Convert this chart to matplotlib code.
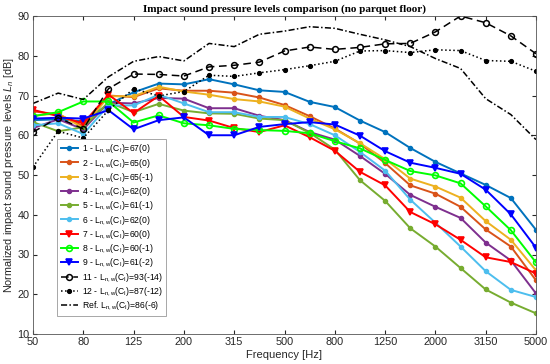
import numpy as np
import matplotlib
matplotlib.use('Agg')
import matplotlib.pyplot as plt

# 1/3-octave band centre frequencies
freqs = [50, 63, 80, 100, 125, 160, 200, 250, 315, 400, 500, 630, 800,
         1000, 1250, 1600, 2000, 2500, 3150, 4000, 5000]
tick_labels = ['50', '80', '125', '200', '315', '500', '800', '1250', '2000', '3150', '5000']

s1 = [63.8, 64.0, 63.5, 67.8, 70.8, 73.0, 72.8, 74.1, 72.8, 71.3, 70.9, 68.4, 67.1,
      63.7, 60.8, 56.8, 53.3, 50.4, 47.5, 44.2, 36.2]
s2 = [66.0, 65.3, 62.3, 70.0, 69.6, 71.8, 71.2, 71.2, 70.7, 69.5, 67.6, 64.8, 61.7,
      57.9, 53.0, 47.4, 45.3, 42.0, 36.3, 32.0, 23.5]
s3 = [64.9, 65.5, 61.8, 69.8, 69.8, 72.2, 71.0, 70.2, 69.1, 68.5, 67.2, 64.2, 61.5,
      58.0, 54.0, 49.1, 47.1, 44.3, 38.4, 33.7, 26.0]
s4 = [61.8, 64.0, 61.5, 68.2, 68.0, 69.4, 69.2, 66.8, 66.8, 64.9, 63.8, 60.8, 58.9,
      54.8, 50.3, 45.0, 42.0, 39.2, 33.0, 28.5, 20.2]
s5 = [63.3, 61.0, 62.0, 68.3, 65.8, 67.9, 66.2, 65.5, 65.4, 64.2, 63.8, 60.6, 56.4,
      48.7, 43.5, 36.6, 32.0, 26.6, 21.2, 17.9, 15.2]
s6 = [62.5, 63.0, 60.3, 67.5, 67.5, 70.2, 68.0, 65.8, 65.8, 64.6, 64.6, 62.8, 60.0,
      55.8, 51.1, 43.8, 38.0, 32.0, 25.8, 21.1, 19.3]
s7 = [66.4, 64.8, 63.0, 70.2, 65.6, 69.9, 64.6, 63.7, 61.8, 60.8, 62.5, 59.5, 56.1,
      50.8, 47.4, 40.7, 37.6, 33.7, 29.3, 28.1, 25.2]
s8 = [64.8, 65.8, 68.5, 68.5, 63.2, 65.0, 63.0, 62.5, 61.6, 61.3, 61.1, 60.5, 58.5,
      56.7, 53.8, 51.0, 49.9, 47.9, 42.1, 36.1, 28.0]
s9 = [64.2, 64.4, 64.2, 66.3, 61.5, 63.8, 64.5, 60.0, 60.0, 62.1, 62.8, 63.3, 62.7,
      59.9, 56.0, 53.1, 51.8, 50.3, 46.3, 40.1, 31.7]
s11 = [60.8, 64.4, 61.6, 71.7, 75.4, 75.3, 74.9, 77.2, 77.6, 78.4, 81.2, 82.2, 81.6,
       82.1, 83.0, 83.1, 86.0, 90.0, 88.3, 85.0, 80.5]
s12 = [52.0, 61.0, 59.3, 66.3, 71.7, 69.9, 71.0, 75.1, 74.8, 75.7, 76.5, 77.5, 78.6,
       81.2, 81.3, 80.8, 81.5, 81.3, 78.8, 78.6, 76.1]
ref = [68.0, 70.6, 69.0, 74.7, 78.6, 79.8, 78.7, 83.1, 82.3, 85.4, 86.2, 87.3, 86.9,
       85.4, 84.0, 82.3, 79.3, 76.8, 69.2, 65.2, 58.9]

labels = [
    r'1 - L$_{\rm n,w}$(C$_{\rm I}$)=67(0)',
    r'2 - L$_{\rm n,w}$(C$_{\rm I}$)=65(0)',
    r'3 - L$_{\rm n,w}$(C$_{\rm I}$)=65(-1)',
    r'4 - L$_{\rm n,w}$(C$_{\rm I}$)=62(0)',
    r'5 - L$_{\rm n,w}$(C$_{\rm I}$)=61(-1)',
    r'6 - L$_{\rm n,w}$(C$_{\rm I}$)=62(0)',
    r'7 - L$_{\rm n,w}$(C$_{\rm I}$)=60(0)',
    r'8 - L$_{\rm n,w}$(C$_{\rm I}$)=60(-1)',
    r'9 - L$_{\rm n,w}$(C$_{\rm I}$)=61(-2)',
    r'11 - L$_{\rm n,w}$(C$_{\rm I}$)=93(-14)',
    r'12 - L$_{\rm n,w}$(C$_{\rm I}$)=87(-12)',
    r'Ref. L$_{\rm n,w}$(C$_{\rm I}$)=86(-6)',
]

plt.rcParams['font.family'] = ['Liberation Sans', 'DejaVu Sans']
plt.rcParams['mathtext.fontset'] = 'custom'
plt.rcParams['mathtext.rm'] = 'Liberation Sans'
plt.rcParams['mathtext.it'] = 'Liberation Sans:italic'

fig = plt.figure(figsize=(5.5, 3.64), dpi=100)
ax = fig.add_axes([33 / 550, 30 / 364, 503 / 550, 318 / 364])

x = np.arange(len(freqs))

# coloured measurement curves
styles = [
    (s1, '#0072BD', '.', 5.5, None),
    (s2, '#D95319', '.', 5.5, None),
    (s3, '#EDB120', '.', 5.5, None),
    (s4, '#7E2F8E', '.', 5.5, None),
    (s5, '#77AC30', '.', 5.5, None),
    (s6, '#4DBEEE', '.', 5.5, None),
    (s7, '#FF0000', 'v', 4.5, None),
    (s8, '#00FF00', 'o', 4.2, 'none'),
    (s9, '#0000FF', 'v', 4.5, None),
]
for (vals, col, mk, ms, mfc), lab in zip(styles, labels[:9]):
    ax.plot(x, vals, color=col, marker=mk, markersize=ms, linewidth=1.4,
            markerfacecolor=mfc if mfc else col, markeredgewidth=1.2, label=lab)

# black curves
ax.plot(x, s11, color='black', linestyle='--', dashes=(5, 3), marker='o', markersize=4.2,
        markerfacecolor='none', markeredgewidth=1.1, linewidth=1.1, label=labels[9])
ax.plot(x, s12, color='black', linestyle=':', marker='.', markersize=5.5,
        linewidth=1.1, label=labels[10])
ax.plot(x, ref, color='black', linestyle='-.', dashes=(4, 1.5, 1, 1.5),
        linewidth=1.1, label=labels[11])

ax.set_xlim(0, len(freqs) - 1)
ax.set_ylim(10, 90)
ax.set_xticks(x[::2])
ax.set_xticklabels(tick_labels)
ax.set_yticks(np.arange(10, 91, 10))
ax.tick_params(direction='in', length=3, labelsize=7.8, colors='#262626',
               top=True, right=True, pad=2.5)
for sp in ax.spines.values():
    sp.set_color('#555555')
    sp.set_linewidth(0.6)

ax.set_xlabel('Frequency [Hz]', fontsize=8, color='#262626', labelpad=2)
ax.set_ylabel(r'Normalized impact sound pressure levels $\it{L}_{\it{n}}$ [dB]',
              fontsize=7.8, color='#262626', labelpad=1)
ax.set_title('Impact sound pressure levels comparison (no parquet floor)',
             fontsize=8, family='Liberation Serif', fontweight='bold', pad=3)

leg = ax.legend(loc='lower left', bbox_to_anchor=(0.04, 0.044), fontsize=6.2,
                handlelength=2.0, handletextpad=0.4, labelspacing=0.2,
                borderpad=0.4, frameon=True, fancybox=False, framealpha=1)
leg.get_frame().set_edgecolor('#999999')
leg.get_frame().set_linewidth(0.6)

fig.savefig('out.png', dpi=100)
